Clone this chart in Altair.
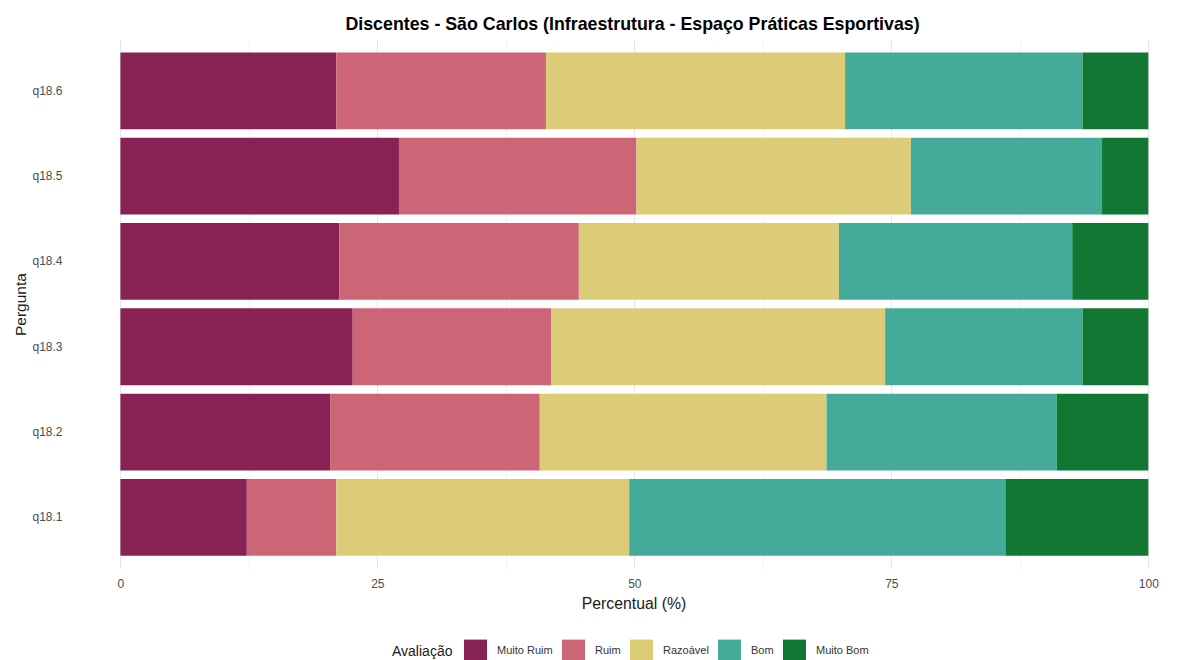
import altair as alt
import pandas as pd

perguntas = ["q18.1", "q18.2", "q18.3", "q18.4", "q18.5", "q18.6"]
avaliacoes = ["Muito Ruim", "Ruim", "Razoável", "Bom", "Muito Bom"]
cores = ["#882255", "#CC6677", "#DDCC77", "#44AA99", "#117733"]

muito_ruim = [12.3, 20.4, 22.6, 21.3, 27.1, 21.0]
ruim = [8.7, 20.4, 19.3, 23.3, 23.1, 20.4]
razoavel = [28.5, 27.9, 32.5, 25.3, 26.7, 29.1]
bom = [36.6, 22.4, 19.2, 22.7, 18.6, 23.1]
muito_bom = [13.9, 8.9, 6.4, 7.4, 4.5, 6.4]

x_ticks = [0, 12.5, 25, 37.5, 50, 62.5, 75, 87.5, 100]

series = [muito_ruim, ruim, razoavel, bom, muito_bom]
rows = []
for k, (nome, vals) in enumerate(zip(avaliacoes, series)):
    for p, v in zip(perguntas, vals):
        rows.append({"pergunta": p, "avaliacao": nome, "valor": v, "ordem": k})
df = pd.DataFrame(rows)

FONT = "Liberation Sans"

chart = alt.Chart(df).mark_bar().encode(
    x=alt.X(
        "valor:Q",
        stack="zero",
        title="Percentual (%)",
        scale=alt.Scale(domain=[-5, 102.5], nice=False, zero=False),
        axis=alt.Axis(
            values=x_ticks,
            labelExpr="datum.value % 25 == 0 ? datum.label : ''",
            domain=False,
            ticks=False,
            labelFlush=False,
            labelOverlap=False,
            labelPadding=10,
            labelFontSize=12,
            labelColor="#4D4D4D",
            titleFontSize=15.8,
            titleFontWeight="normal",
            titleColor="#1A1A1A",
            titlePadding=7,
            titleX=564.5,
            gridColor=alt.condition("datum.value % 25 == 0", alt.value("#E6E6E6"), alt.value("#F2F2F2")),
            gridWidth=1,
        ),
    ),
    y=alt.Y(
        "pergunta:N",
        sort=list(reversed(perguntas)),
        title="Pergunta",
        scale=alt.Scale(paddingInner=0.1, paddingOuter=0.15),
        axis=alt.Axis(
            domain=False,
            ticks=False,
            bandPosition=0.5,
            labelPadding=7,
            labelFontSize=12,
            labelColor="#4D4D4D",
            titleFontSize=15.5,
            titleFontWeight="normal",
            titleColor="#1A1A1A",
            titleX=-49,
            titleY=264.5,
            titleBaseline="middle",
            gridColor="#E6E6E6",
            gridWidth=1,
        ),
    ),
    color=alt.Color(
        "avaliacao:N",
        title="Avaliação",
        scale=alt.Scale(domain=avaliacoes, range=cores),
        legend=alt.Legend(
            orient="none",
            direction="horizontal",
            columns=5,
            legendX=323,
            legendY=600,
            titleOrient="left",
            titleFontSize=14,
            titleFontWeight="normal",
            titleColor="#1A1A1A",
            titlePadding=11,
            labelFontSize=11,
            labelColor="#333333",
            labelOffset=10,
            columnPadding=9,
            symbolType="square",
            symbolSize=529,
            symbolStrokeWidth=0,
            symbolOpacity=1,
            padding=0,
        ),
    ),
    order=alt.Order("ordem:Q", sort="ascending"),
).properties(
    width=1105,
    height=529,
    title=alt.TitleParams(
        "Discentes - São Carlos (Infraestrutura - Espaço Práticas Esportivas)",
        fontSize=17.8,
        fontWeight="bold",
        color="#000000",
        anchor="middle",
        offset=6,
        dx=11,
        font=FONT,
    ),
    autosize=alt.AutoSizeParams(type="none"),
    padding={"left": 61, "top": 31.6, "right": 0, "bottom": 91.4},
).configure(
    font=FONT,
).configure_view(
    stroke=None,
).configure_axis(
    labelFont=FONT,
    titleFont=FONT,
).configure_legend(
    labelFont=FONT,
    titleFont=FONT,
)

chart.save("out.html", embed_options={"renderer": "svg", "actions": False})
